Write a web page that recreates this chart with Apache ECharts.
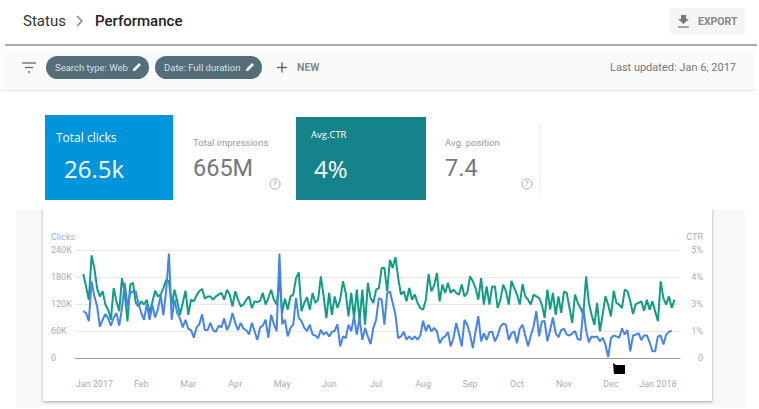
<!DOCTYPE html>
<html><head><meta charset="utf-8">
<style>html,body{margin:0;padding:0;background:#fff}#c{width:759px;height:409px}</style>
<script src="https://cdn.jsdelivr.net/npm/echarts@6/dist/echarts.min.js"></script>
</head><body><div id="c"></div>
<script>
const monthTicks = ['Jan 2017','Feb','Mar','Apr','May','Jun','Jul','Aug','Sep','Oct','Nov','Dec','Jan 2018'];
const clickTicks = ['0','60K','120K','180K','240K'];
const ctrTicks = ['0','1%','3%','4%','5%'];
const clicksK = [
104,100,82,170,138,115,70,85,98,88,72,90,100,72,110,167,115,145,148,148,120,100,85,120,85,118,90,108,140,95,150,232,
85,130,100,88,68,85,65,62,45,68,75,97,62,62,78,62,58,72,68,88,62,75,100,78,62,78,65,62,52,78,60,40,68,72,85,45,96,75,60,232,
75,85,48,67,74,133,89,82,67,60,74,52,50,44,63,52,58,48,58,60,75,26,48,44,74,60,93,52,89,40,67,48,31,67,85,133,130,74,144,148,122,96,
44,48,58,41,48,41,48,41,50,83,60,74,59,67,59,33,44,48,58,26,44,78,52,26,85,74,52,22,59,93,37,55,
40,57,59,37,50,70,76,74,40,55,59,33,65,74,50,26,50,70,104,48,81,82,37,62,90,55,46,62,65,52,50,55,60,42,40,111,62,35,48,46,48,37,45,30,2,44,50,48,45,66,52,62,15,50,52,55,40,50,50,35,15,15,48,50,30,52,58,61];
const ctrPos = [
3.11,2.65,2.16,3.80,3.33,2.59,2.28,2.47,1.98,1.79,1.42,2.59,2.10,1.73,2.96,2.41,1.36,2.72,2.78,2.04,1.91,2.10,1.98,2.16,1.67,
2.07,2.49,2.28,2.35,2.59,2.90,2.84,1.98,2.53,2.10,1.60,2.04,2.49,1.60,2.16,2.10,2.32,2.47,2.56,2.20,2.28,2.28,2.16,2.28,2.35,2.41,2.16,2.53,2.35,1.91,2.47,2.16,1.91,1.98,2.16,2.28,1.85,2.10,2.07,2.12,2.41,1.98,2.22,2.53,2.16,1.98,
2.90,1.67,2.20,1.79,2.28,2.35,2.96,3.17,1.73,2.04,2.25,1.79,2.41,2.04,2.16,3.02,2.28,1.48,2.41,1.60,2.28,1.85,2.16,2.84,2.41,1.54,2.41,1.48,2.53,1.36,2.53,1.23,2.78,2.22,2.04,2.53,2.59,3.33,3.33,2.47,3.64,3.33,3.74,2.96,2.35,2.47,2.10,2.59,2.16,2.35,2.04,1.85,1.79,2.16,3.11,2.47,2.68,3.15,2.10,2.72,2.41,2.78,2.41,2.53,2.41,2.35,2.72,2.28,2.41,3.02,2.84,2.59,2.16,2.96,1.98,2.65,
1.98,2.65,2.65,1.85,2.16,2.72,2.47,1.98,2.86,2.59,2.35,1.98,2.74,2.28,2.16,1.98,2.35,2.28,2.22,1.98,1.48,2.53,1.79,2.41,1.60,2.28,1.67,2.47,2.41,1.85,1.30,2.35,2.04,1.85,1.60,3.02,2.04,1.60,1.23,2.04,0.99,1.60,2.28,1.98,1.54,2.49,2.04,1.98,1.85,2.53,2.47,2.10,1.63,2.00,2.04,2.10,1.75,2.16,1.79,2.10,1.73,1.36,2.84,2.22,1.98,2.28,1.85,2.16];
const lead = 3, firstLabel = 7, perMonth = 17, slots = 220;
const categories = new Array(slots).fill('');
monthTicks.forEach((m,i)=>{categories[firstLabel+i*perMonth]=m;});
const pad = a => new Array(lead).fill(null).concat(a);

const F='Roboto, sans-serif';
const txt=(x,y,t,size,fill,o={})=>({type:'text',z:o.z||1,x,y,style:Object.assign({text:t,font:`${o.weight||'normal'} ${size}px ${o.family||F}`,fill,textVerticalAlign:'middle',textAlign:o.align||'left'},{})});
const rect=(x,y,w,h,fill,r)=>({type:'rect',z:-5,shape:{x,y,width:w,height:h,r:r||0},style:{fill}});
const hline=(x1,y1,x2,y2,stroke,lw)=>({type:'line',z:1,shape:{x1,y1,x2,y2},style:{stroke,lineWidth:lw||1}});
const help=(cx,cy)=>[{type:'circle',z:1,shape:{cx,cy,r:5},style:{fill:'none',stroke:'#aaa',lineWidth:1}},
  {type:'text',z:1,x:cx,y:cy,style:{text:'?',font:`7px ${F}`,fill:'#999',textAlign:'center',textVerticalAlign:'middle'}}];
const pencil=(x,y)=>({type:'polygon',z:1,shape:{points:[[x,y+8],[x+2,y+8],[x+8,y+2],[x+6,y],[x,y+6]]},style:{fill:'#eef2f4'}});

const graphic=[
 rect(16,210,729,197,'#f8f8f8'),
 {type:'rect',z:-4,shape:{x:43,y:205,width:669,height:196},style:{fill:'#fff',shadowBlur:3,shadowColor:'rgba(0,0,0,0.35)',shadowOffsetY:1}},
 {type:'rect',z:-3,shape:{x:16,y:200,width:729,height:10},style:{fill:'#fff'}},
 txt(23,21,'Status',15,'#333'),
 {type:'polyline',z:1,shape:{points:[[77,16],[82,21],[77,26]]},style:{fill:'none',stroke:'#888',lineWidth:1.5}},
 txt(95,21,'Performance',15,'#222',{weight:'500'}),
 rect(669,8,76,26,'#f5f5f5'),
 {type:'polygon',z:1,shape:{points:[[681,15],[686,15],[686,19],[689,19],[683.5,24],[678,19],[681,19]]},style:{fill:'#777'}},
 hline(678,27,689,27,'#777',1.3),
 txt(698,21,'EXPORT',10.5,'#888',{weight:'bold'}),
 hline(5,45,757,45,'#aaaaaa',2),
 rect(2,50,753,40,'#fafafa'),
 hline(2,90.5,755,90.5,'#e6e6e6',1),
 hline(22,63,36,63,'#666',1.3),hline(25,67.5,33,67.5,'#666',1.3),hline(28,72,30,72,'#666',1.3),
 rect(46,56,103,23,'#546e7a',11.5),
 txt(55,67.5,'Search type: Web',9.5,'#d7e0e4'),
 pencil(133,63),
 rect(155,56,107,23,'#546e7a',11.5),
 txt(164,67.5,'Date: Full duration',9.5,'#d7e0e4'),
 pencil(246,63),
 hline(277,67.5,287,67.5,'#666',1.4),hline(282,62.5,282,72.5,'#666',1.4),
 txt(297,67.5,'NEW',10.5,'#888',{weight:'bold'}),
 txt(736,67.5,'Last updated: Jan 6, 2017',11,'#777',{align:'right'}),
 rect(45,115,128,85,'#0095da'),
 txt(56,137,'Total clicks',12,'#fff',{family:'"Open Sans", sans-serif'}),
 txt(64,168,'26.5k',24,'#fff',{family:'"Open Sans", sans-serif'}),
 txt(193,142,'Total impressions',9.5,'#999'),
 txt(193,168,'665M',23.5,'#777'),
 ...help(275,184),
 rect(296,117,130,85,'#14848a'),
 txt(311,134,'Avg.CTR',9.5,'#fff',{family:'"Open Sans", sans-serif'}),
 txt(314,168,'4%',24,'#fff',{family:'"Open Sans", sans-serif'}),
 txt(445,142,'Avg. position',9.5,'#999'),
 txt(445,168,'7.4',23.5,'#777'),
 ...help(527,184),
 hline(540.5,124,540.5,195,'#eeeeee',1),
 txt(51,237,'Clicks',9,'#adadad'),
 txt(703,237,'CTR',9,'#adadad',{align:'right'}),
 {type:'polygon',z:5,shape:{points:[[613,363],[616,365],[625,365],[625,374],[614,374]]},style:{fill:'#000'}}
];

const chart=echarts.init(document.getElementById('c'),null,{renderer:'svg',width:759,height:409});
chart.setOption({
 animation:false,
 backgroundColor:'#fff',
 textStyle:{fontFamily:F},
 graphic:{elements:graphic},
 grid:{left:75,right:79,top:250,bottom:51,containLabel:false},
 xAxis:{type:'category',boundaryGap:false,data:categories,
  axisTick:{show:false},
  axisLine:{lineStyle:{color:'#9e9e9e',width:1}},
  axisLabel:{interval:(i,v)=>v!=='',margin:21,fontSize:9,color:'#adadad',fontFamily:F},
  splitLine:{show:false}},
 yAxis:[
  {type:'value',min:0,max:240,interval:60,
   axisLine:{show:false},axisTick:{show:false},
   splitLine:{lineStyle:{color:'#e8e8e8',width:1}},
   axisLabel:{align:'left',margin:24,fontSize:9,color:'#adadad',formatter:(v,i)=>clickTicks[i]}},
  {type:'value',min:0,max:4,interval:1,position:'right',
   axisLine:{show:false},axisTick:{show:false},splitLine:{show:false},
   axisLabel:{align:'right',margin:23,fontSize:9,color:'#adadad',formatter:(v,i)=>ctrTicks[i]}}
 ],
 series:[
  {name:'CTR',type:'line',yAxisIndex:1,data:pad(ctrPos),showSymbol:false,symbol:'none',connectNulls:false,
   lineStyle:{color:'#109d83',width:2},z:2},
  {name:'Clicks',type:'line',yAxisIndex:0,data:pad(clicksK),showSymbol:false,symbol:'none',connectNulls:false,
   lineStyle:{color:'#4684e8',width:2},z:3}
 ]
});
</script></body></html>
